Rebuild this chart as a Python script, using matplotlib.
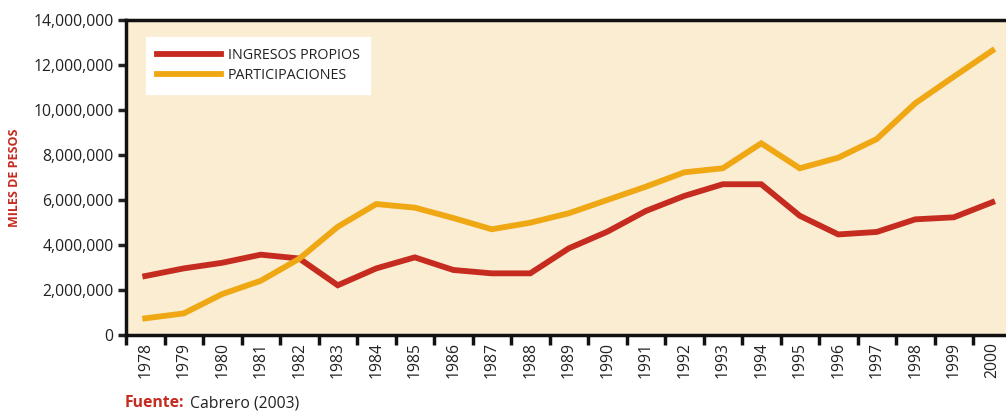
import matplotlib
matplotlib.use("Agg")
import matplotlib.pyplot as plt
from matplotlib.ticker import FuncFormatter, FixedLocator, NullFormatter

years = [str(y) for y in range(1978, 2001)]
ingresos_propios = [2.62, 2.96, 3.21, 3.57, 3.40, 2.21, 2.96, 3.45, 2.89, 2.74, 2.74,
                    3.85, 4.59, 5.51, 6.18, 6.70, 6.70, 5.30, 4.47, 4.58, 5.14, 5.23, 5.90]
participaciones = [0.74, 0.96, 1.82, 2.41, 3.39, 4.81, 5.82, 5.66, 5.20, 4.70, 4.99,
                   5.41, 6.00, 6.59, 7.23, 7.41, 8.52, 7.41, 7.88, 8.71, 10.30, 11.48, 12.64]
ingresos_propios = [v * 1e6 for v in ingresos_propios]
participaciones = [v * 1e6 for v in participaciones]

RED = "#C62B20"
ORANGE = "#EFA814"
BG = "#FAEDD2"

plt.rcParams['font.family'] = ['Open Sans', 'DejaVu Sans']

fig = plt.figure(figsize=(10.06, 4.12), dpi=100)
ax = fig.add_axes([126/1006, 1-335/412, 885.5/1006, 315/412])
ax.set_facecolor(BG)

x = list(range(len(years)))
ax.plot(x, ingresos_propios, color=RED, lw=4.2, solid_joinstyle='miter', label="INGRESOS PROPIOS")
ax.plot(x, participaciones, color=ORANGE, lw=4.2, solid_joinstyle='miter', label="PARTICIPACIONES")

ax.set_xlim(-0.5, len(years) - 0.5)
ax.set_ylim(0, 14e6)
ax.set_yticks([i * 2e6 for i in range(8)])
ax.yaxis.set_major_formatter(FuncFormatter(lambda v, p: f"{int(v):,}"))
ax.tick_params(axis='y', length=6, width=2.5, labelsize=11.3, colors='#222222', pad=3)

ax.xaxis.set_major_locator(FixedLocator([i - 0.5 for i in range(len(years))]))
ax.xaxis.set_major_formatter(NullFormatter())
ax.xaxis.set_minor_locator(FixedLocator(x))
ax.set_xticks(x, minor=True)
ax.set_xticklabels(years, minor=True, rotation=90)
ax.tick_params(axis='x', which='major', length=7, width=2.5, color='#111111')
ax.tick_params(axis='x', which='minor', length=0, labelsize=11.3, labelcolor='#222222', pad=5)

for s in ['left', 'top', 'bottom']:
    ax.spines[s].set_color('#111111')
ax.spines['left'].set_linewidth(2.5)
ax.spines['top'].set_linewidth(2.5)
ax.spines['bottom'].set_linewidth(2.5)
ax.spines['right'].set_visible(False)

leg = ax.legend(loc='upper left', bbox_to_anchor=(20/885.5, 1 - 17/315), frameon=True,
                fancybox=False, framealpha=1, edgecolor='white', facecolor='white',
                fontsize=10.3, handlelength=4.5, handletextpad=0.45, borderpad=0.75,
                labelspacing=0.4, borderaxespad=0)
for t in leg.get_texts():
    t.set_color('#222222')

fig.text(15/1006, 1-178/412, "MILES DE PESOS", rotation=90, color=RED, fontsize=9,
         fontweight='bold', ha='center', va='center')

fig.text(125/1006, 1-403/412, "Fuente:", color=RED, fontsize=11.3, fontweight='bold',
         ha='left', va='center')
fig.text(190/1006, 1-403/412, "Cabrero (2003)", color='#222222', fontsize=11.3,
         ha='left', va='center')

fig.savefig("out.png", dpi=100)
